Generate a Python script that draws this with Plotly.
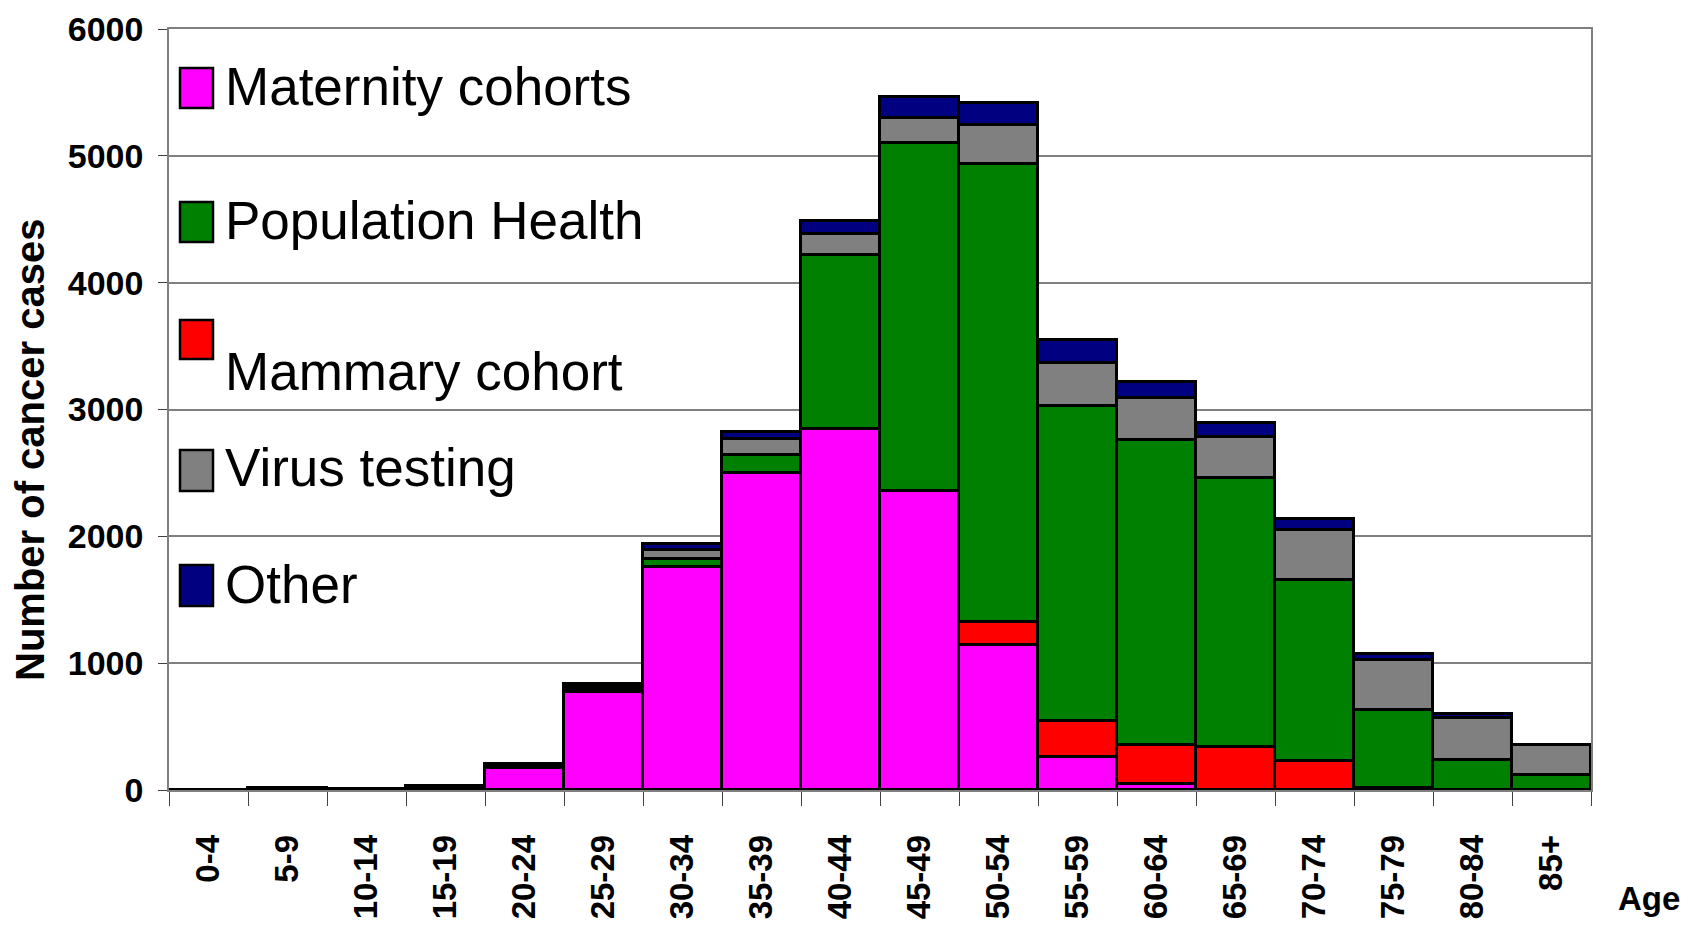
import plotly.graph_objects as go

categories = ["0-4", "5-9", "10-14", "15-19", "20-24", "25-29", "30-34", "35-39", "40-44",
              "45-49", "50-54", "55-59", "60-64", "65-69", "70-74", "75-79", "80-84", "85+"]
maternity = [0, 10, 5, 15, 175, 770, 1760, 2500, 2850, 2360, 1145, 260, 45, 0, 0, 0, 0, 0]
mammary = [0, 0, 0, 0, 0, 0, 0, 0, 0, 0, 180, 285, 308, 340, 229, 15, 0, 0]
population_health = [0, 2, 1, 8, 10, 25, 65, 140, 1370, 2740, 3610, 2485, 2410, 2120, 1425, 615, 240, 115]
virus_testing = [0, 2, 1, 7, 12, 25, 70, 125, 165, 200, 310, 335, 325, 326, 395, 395, 325, 240]
other = [0, 2, 1, 5, 10, 15, 45, 60, 105, 165, 175, 185, 125, 110, 87, 44, 38, 0]

# stacking order (bottom to top)
stack_names = ["Maternity cohorts", "Mammary cohort", "Population Health", "Virus testing", "Other"]
stack_values = [maternity, mammary, population_health, virus_testing, other]
stack_colors = ["#FF00FF", "#FF0000", "#008000", "#808080", "#000080"]

# legend order
legend_names = ["Maternity cohorts", "Population Health", "Mammary cohort", "Virus testing", "Other"]
legend_colors = ["#FF00FF", "#008000", "#FF0000", "#808080", "#000080"]

OFF = 8  # page body margin
W, H = 1695 - OFF, 928 - OFF
L, T = 161, 21
PW, PH = 1422, 761
R, B = W - L - PW, H - T - PH

def px(xs):
    return (xs - OFF - L) / PW

def py(ys):
    return (T + PH - (ys - OFF)) / PH

FONT = "Liberation Sans, Arial, sans-serif"

fig = go.Figure()
for name, vals, col in zip(stack_names, stack_values, stack_colors):
    fig.add_trace(go.Bar(x=categories, y=vals, name=name, showlegend=False,
                         marker=dict(color=col, line=dict(color="black", width=3))))

# manual legend (large swatches)
swatch_y = [(68, 108), (202, 242), (320, 359), (450, 491), (565, 606)]
text_y = [86, 220, 371, 468, 584]
shapes = []
annotations = []
for (y0, y1), ty, txt, col in zip(swatch_y, text_y, legend_names, legend_colors):
    shapes.append(dict(type="rect", xref="paper", yref="paper",
                       x0=px(180), x1=px(213), y0=py(y1), y1=py(y0),
                       fillcolor=col, line=dict(color="black", width=2.5)))
    annotations.append(dict(xref="paper", yref="paper", x=px(223), y=py(ty),
                            xanchor="left", yanchor="middle", showarrow=False,
                            text=txt, font=dict(family=FONT, size=53, color="black")))

annotations.append(dict(xref="paper", yref="paper", x=px(30), y=py(450),
                        xanchor="center", yanchor="middle", showarrow=False, textangle=-90,
                        text="Number of cancer cases",
                        font=dict(family=FONT, size=40, color="black", weight="bold")))
annotations.append(dict(xref="paper", yref="paper", x=px(1649), y=py(898),
                        xanchor="center", yanchor="middle", showarrow=False,
                        text="Age", font=dict(family=FONT, size=33, color="black", weight="bold")))

fig.update_layout(
    width=W, height=H,
    margin=dict(l=L, r=R, t=T, b=B, autoexpand=False),
    barmode="stack", bargap=0,
    paper_bgcolor="white", plot_bgcolor="white",
    shapes=shapes, annotations=annotations,
    font=dict(family=FONT, color="black"),
)
fig.update_xaxes(
    type="category", tickangle=-90, tickson="boundaries",
    ticks="outside", ticklen=14, tickwidth=1, tickcolor="#404040",
    ticklabelstandoff=30,
    showline=True, linecolor="#808080", linewidth=1.5, mirror=True,
    showgrid=False,
    tickfont=dict(family=FONT, size=33, color="black", weight="bold"),
)
fig.update_yaxes(
    range=[0, 6000], dtick=1000, tickmode="linear",
    ticks="outside", ticklen=9, tickwidth=1, tickcolor="#404040",
    ticklabelstandoff=8,
    showline=True, linecolor="#808080", linewidth=1.5, mirror=True,
    showgrid=True, gridcolor="#808080", gridwidth=1.5,
    zeroline=False,
    tickfont=dict(family=FONT, size=34, color="black", weight="bold"),
)

fig.write_html("out.html")
